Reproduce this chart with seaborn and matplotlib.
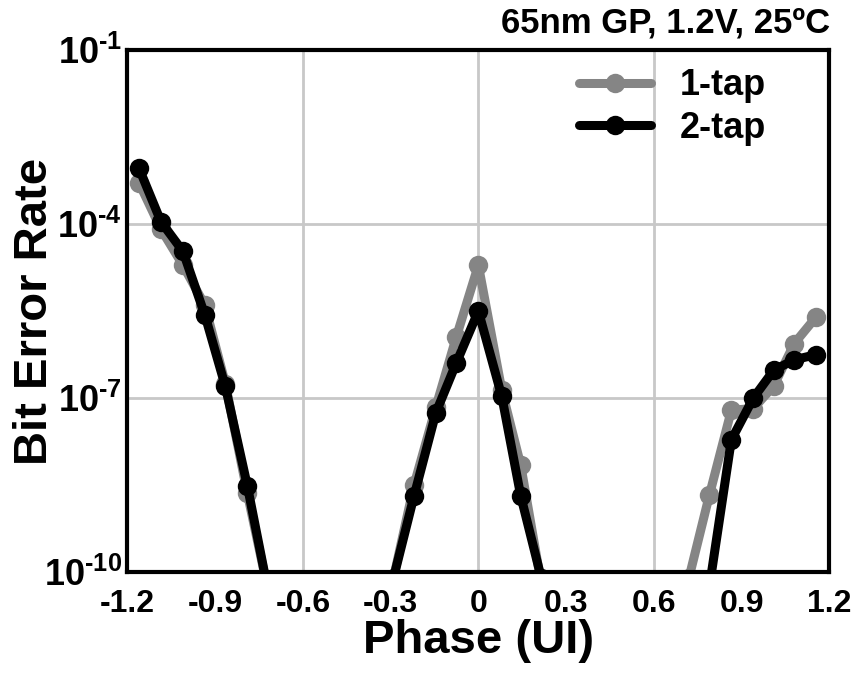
import numpy as np
import pandas as pd
import matplotlib
matplotlib.use("Agg")
import matplotlib.pyplot as plt
import matplotlib.ticker as mticker
import seaborn as sns

# phase points (UI) and log10(BER)
phase = [-1.16, -1.085, -1.01, -0.935, -0.865, -0.79, -0.72,
         -0.29, -0.22, -0.145, -0.075, 0.0, 0.08, 0.145, 0.215,
         0.72, 0.79, 0.865, 0.94, 1.01, 1.08, 1.155]
log_ber_1tap = [-3.29, -4.09, -4.71, -5.40, -6.75, -8.64, -10.3,
                -10.1, -8.50, -7.15, -5.94, -4.71, -6.86, -8.16, -10.2,
                -10.1, -8.67, -7.21, -7.18, -6.79, -6.06, -5.60]
log_ber_2tap = [-3.04, -3.96, -4.47, -5.57, -6.80, -8.51, -10.3,
                -10.1, -8.69, -7.25, -6.39, -5.50, -6.97, -8.69, -10.1,
                -11.0, -10.25, -7.72, -7.00, -6.52, -6.34, -6.25]
series = ["1-tap", "2-tap"]
colors = ["#858585", "#000000"]
title_txt = "65nm GP, 1.2V, 25ºC"

df = pd.DataFrame({
    "phase": phase * 2,
    "ber": 10.0 ** np.array(log_ber_1tap + log_ber_2tap),
    "eq": [series[0]] * len(phase) + [series[1]] * len(phase),
})

sns.set_style("white")
plt.rcParams["font.family"] = ["Liberation Sans", "DejaVu Sans"]
plt.rcParams["font.weight"] = "bold"
plt.rcParams["mathtext.fontset"] = "custom"
plt.rcParams["mathtext.rm"] = "Liberation Sans:bold"
plt.rcParams["mathtext.bf"] = "Liberation Sans:bold"
plt.rcParams["text.color"] = "black"
plt.rcParams["axes.labelcolor"] = "black"

fig = plt.figure(figsize=(8.55, 6.77), dpi=100)
ax = fig.add_axes([0.149, 0.155, 0.821, 0.771])

sns.lineplot(data=df, x="phase", y="ber", hue="eq", hue_order=series,
             palette=dict(zip(series, colors)), marker="o", markersize=14,
             markeredgewidth=0, linewidth=6.5, estimator=None, ax=ax)

ax.set_yscale("log")
ax.set_xlim(-1.2, 1.2)
ax.set_ylim(1e-10, 1e-1)

# x: gridded major every 0.6, labelled minor in between
ax.xaxis.set_major_locator(mticker.FixedLocator([-1.2, -0.6, 0, 0.6, 1.2]))
ax.xaxis.set_minor_locator(mticker.FixedLocator([-0.9, -0.3, 0.3, 0.9]))
ax.xaxis.set_major_formatter(mticker.FuncFormatter(lambda v, p: f"{v:g}"))
ax.xaxis.set_minor_formatter(mticker.FuncFormatter(lambda v, p: f"{v:g}"))

ax.yaxis.set_major_locator(mticker.FixedLocator([1e-10, 1e-7, 1e-4, 1e-1]))
ax.yaxis.set_minor_locator(mticker.FixedLocator([10.0 ** k for k in range(-9, -1)]))
ax.yaxis.set_major_formatter(mticker.FuncFormatter(
    lambda v, p: r"$\mathbf{10^{\text{-%d}}}$" % round(-np.log10(v))))
ax.yaxis.set_minor_formatter(mticker.NullFormatter())

ax.grid(True, which="major", color="#c8c8c8", linewidth=2)
ax.set_axisbelow(True)

for s in ax.spines.values():
    s.set_linewidth(3)
    s.set_color("black")

ax.tick_params(axis="both", which="both", direction="in", length=5, width=2.5,
               labelsize=23, colors="black")
ax.tick_params(axis="x", which="both", pad=12)
ax.tick_params(axis="y", which="major", labelsize=26, pad=4)

ax.set_xlabel("Phase (UI)", fontsize=34, fontweight="bold", labelpad=0)
ax.set_ylabel("Bit Error Rate", fontsize=34, fontweight="bold")
ax.yaxis.set_label_coords(-0.10, 0.5)

fig.text(0.971, 0.966, title_txt, ha="right", va="center",
         fontsize=25, fontweight="bold")

h, l = ax.get_legend_handles_labels()
ax.legend(h, l, loc="upper right", bbox_to_anchor=(0.91, 0.965), frameon=False,
          fontsize=26, handlelength=2.0, handletextpad=0.8, labelspacing=0.2,
          borderaxespad=0, borderpad=0)

fig.savefig("out.png", dpi=100)
